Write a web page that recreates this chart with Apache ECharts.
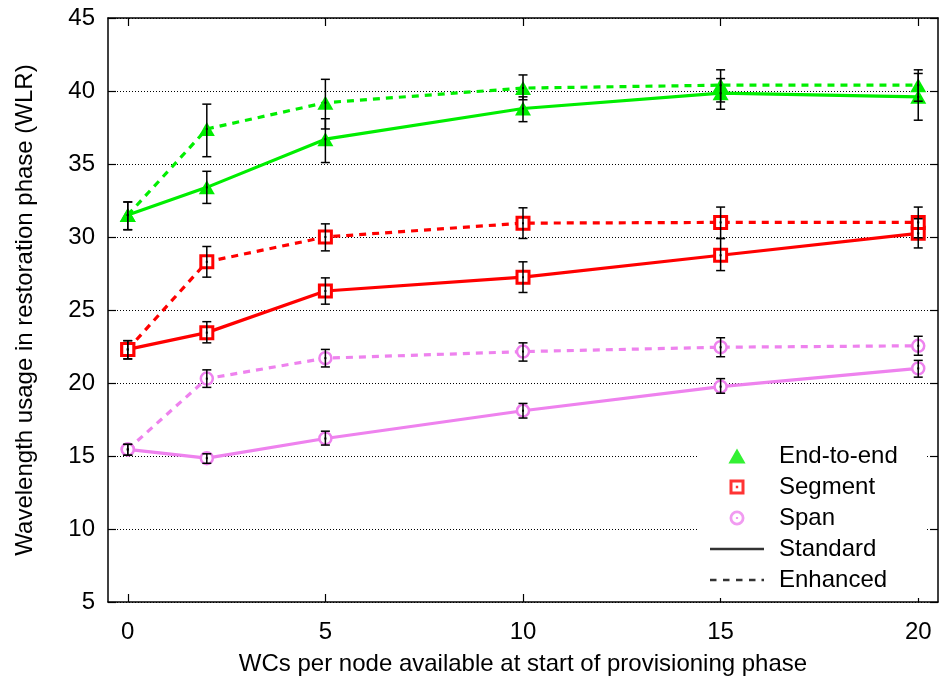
<!DOCTYPE html>
<html>
<head>
<meta charset="utf-8">
<script src="https://cdn.jsdelivr.net/npm/echarts@6/dist/echarts.min.js"></script>
<style>
html,body{margin:0;padding:0;background:#fff;}
#chart{width:940px;height:681px;}
</style>
</head>
<body>
<div id="chart"></div>
<script>
// ---- data ----
const xValues = [0, 2, 5, 10, 15, 20];
const xTicks = [0, 5, 10, 15, 20];

const e2eStandard     = [31.5, 33.4, 36.7, 38.8, 39.85, 39.6];
const e2eStandardLow  = [30.5, 32.3, 35.1, 37.9, 38.75, 38.0];
const e2eStandardHigh = [32.4, 34.5, 38.1, 39.6, 40.85, 41.2];

const e2eEnhanced     = [31.5, 37.4, 39.2, 40.2, 40.4, 40.4];
const e2eEnhancedLow  = [30.5, 35.5, 37.4, 39.4, 39.25, 39.3];
const e2eEnhancedHigh = [32.4, 39.1, 40.8, 41.1, 41.45, 41.45];

const segStandard     = [22.3, 23.45, 26.3, 27.25, 28.75, 30.25];
const segStandardLow  = [21.65, 22.75, 25.4, 26.2, 27.7, 29.25];
const segStandardHigh = [22.9, 24.2, 27.2, 28.3, 29.9, 31.25];

const segEnhanced     = [22.3, 28.3, 30.0, 30.95, 31.0, 31.0];
const segEnhancedLow  = [21.65, 27.25, 29.05, 29.9, 29.9, 29.95];
const segEnhancedHigh = [22.9, 29.35, 30.9, 32.0, 32.05, 32.05];

const spanStandard     = [15.45, 14.85, 16.2, 18.1, 19.75, 21.0];
const spanStandardLow  = [15.05, 14.5, 15.75, 17.6, 19.3, 20.4];
const spanStandardHigh = [15.8, 15.15, 16.7, 18.6, 20.3, 21.55];

const spanEnhanced     = [15.45, 20.3, 21.7, 22.15, 22.45, 22.55];
const spanEnhancedLow  = [15.05, 19.7, 21.1, 21.5, 21.8, 21.9];
const spanEnhancedHigh = [15.8, 20.9, 22.3, 22.75, 23.1, 23.2];

const legendNames = ['End-to-end', 'Segment', 'Span', 'Standard', 'Enhanced'];
const xTitle = 'WCs per node available at start of provisioning phase';
const yTitle = 'Wavelength usage in restoration phase (WLR)';

// ---- styles ----
const GREEN = '#00ee00', RED = '#ff0000', VIOLET = '#ee82ee';
const FONT = "'Liberation Sans', Arial, Helvetica, sans-serif";
const DASH = [7, 6];

function lineSeries(name, vals, color, dashed, kind) {
  let symbol, symbolSize, itemStyle;
  if (kind === 'tri') {
    symbol = 'triangle'; symbolSize = [16, 14];
    itemStyle = {color: color, borderWidth: 0};
  } else if (kind === 'sq') {
    symbol = 'rect'; symbolSize = 12;
    itemStyle = {color: '#fff', borderColor: color, borderWidth: 3};
  } else {
    symbol = 'circle'; symbolSize = 12;
    itemStyle = {color: '#fff', borderColor: color, borderWidth: 2.5};
  }
  return {
    type: 'line', name: name, z: 3,
    data: xValues.map((x, i) => [x, vals[i]]),
    symbol: symbol, symbolSize: symbolSize, showAllSymbol: true,
    itemStyle: itemStyle,
    lineStyle: {color: color, width: 3.2, type: dashed ? DASH : 'solid'},
    emphasis: {disabled: true},
    silent: true
  };
}

function errSeries(name, vals, lo, hi) {
  return {
    type: 'custom', name: name + ' error', z: 4, silent: true,
    data: xValues.map((x, i) => [x, lo[i], hi[i], vals[i]]),
    encode: {x: 0, y: [1, 2, 3]},
    renderItem: function (params, api) {
      const x = api.value(0);
      const pHi = api.coord([x, api.value(2)]);
      const pLo = api.coord([x, api.value(1)]);
      const pC = api.coord([x, api.value(3)]);
      const cw = 4.5;
      const st = {stroke: '#000', lineWidth: 1.5, fill: null};
      return {
        type: 'group',
        children: [
          {type: 'line', shape: {x1: pHi[0], y1: pHi[1], x2: pLo[0], y2: pLo[1]}, style: st},
          {type: 'line', shape: {x1: pHi[0] - cw, y1: pHi[1], x2: pHi[0] + cw, y2: pHi[1]}, style: st},
          {type: 'line', shape: {x1: pLo[0] - cw, y1: pLo[1], x2: pLo[0] + cw, y2: pLo[1]}, style: st},
          {type: 'rect', shape: {x: pC[0] - 1, y: pC[1] - 1, width: 2, height: 2}, style: {fill: '#000'}}
        ]
      };
    }
  };
}

const series = [
  lineSeries('End-to-end Standard', e2eStandard, GREEN, false, 'tri'),
  errSeries('End-to-end Standard', e2eStandard, e2eStandardLow, e2eStandardHigh),
  lineSeries('End-to-end Enhanced', e2eEnhanced, GREEN, true, 'tri'),
  errSeries('End-to-end Enhanced', e2eEnhanced, e2eEnhancedLow, e2eEnhancedHigh),
  lineSeries('Segment Standard', segStandard, RED, false, 'sq'),
  errSeries('Segment Standard', segStandard, segStandardLow, segStandardHigh),
  lineSeries('Segment Enhanced', segEnhanced, RED, true, 'sq'),
  errSeries('Segment Enhanced', segEnhanced, segEnhancedLow, segEnhancedHigh),
  lineSeries('Span Standard', spanStandard, VIOLET, false, 'ci'),
  errSeries('Span Standard', spanStandard, spanStandardLow, spanStandardHigh),
  lineSeries('Span Enhanced', spanEnhanced, VIOLET, true, 'ci'),
  errSeries('Span Enhanced', spanEnhanced, spanEnhancedLow, spanEnhancedHigh)
];

// legend icons (shapes only)
const iconTri = 'path://M8,0 L16,14 L0,14 Z M7.2,8.2 L8.8,8.2 L8.8,9.8 L7.2,9.8 Z M7.2,9.8 L8.8,9.8 L8.8,8.2 L7.2,8.2 Z';
const iconSq = 'path://M0,0 L15,0 L15,15 L0,15 Z M3,3 L3,12 L12,12 L12,3 Z M6.3,6.3 L8.7,6.3 L8.7,8.7 L6.3,8.7 Z';
const iconCi = 'path://M7,0 A7,7 0 1,1 7,14 A7,7 0 1,1 7,0 Z M7,2.6 A4.4,4.4 0 1,0 7,11.4 A4.4,4.4 0 1,0 7,2.6 Z M6,6 L8,6 L8,8 L6,8 Z';
const iconSolid = 'path://M0,0 L54,0 L54,2.6 L0,2.6 Z';
const iconDash = 'path://M0,0 L6.5,0 L6.5,2.6 L0,2.6 Z M13,0 L19.5,0 L19.5,2.6 L13,2.6 Z M26,0 L32.5,0 L32.5,2.6 L26,2.6 Z M39,0 L45.5,0 L45.5,2.6 L39,2.6 Z M51.5,0 L54,0 L54,2.6 L51.5,2.6 Z';
const legendIcons = [iconTri, iconSq, iconCi, iconSolid, iconDash];
const legendColors = [GREEN, RED, VIOLET, '#000', '#000'];

legendNames.forEach((n, i) => {
  series.push({type: 'scatter', name: n, data: [], itemStyle: {color: legendColors[i]}, silent: true});
});

const axisLineStyle = {color: '#000', width: 1.5};

const option = {
  animation: false,
  backgroundColor: '#fff',
  textStyle: {fontFamily: FONT},
  grid: {left: 108, right: 2, top: 18, bottom: 78, containLabel: false},
  legend: {
    orient: 'vertical',
    left: 697, top: 438,
    padding: [6, 28, 6, 13],
    backgroundColor: '#fff',
    itemWidth: 54, itemHeight: 15, itemGap: 7,
    symbolKeepAspect: true,
    selectedMode: false,
    textStyle: {fontFamily: FONT, fontSize: 24, color: '#000', lineHeight: 24, padding: [0, 0, 0, 10]},
    data: legendNames.map((n, i) => ({name: n, icon: legendIcons[i], itemStyle: {color: legendColors[i], borderWidth: 0}}))
  },
  xAxis: [
    {
      type: 'value', min: -0.5, max: 20.5, position: 'bottom',
      name: xTitle, nameLocation: 'middle', nameGap: 50,
      nameTextStyle: {fontFamily: FONT, fontSize: 24, color: '#000'},
      axisLine: {show: true, onZero: false, lineStyle: axisLineStyle},
      axisTick: {show: true, inside: true, length: 8, customValues: xTicks, lineStyle: {color: '#000', width: 1.2}},
      axisLabel: {customValues: xTicks, fontFamily: FONT, fontSize: 24, color: '#000', margin: 18},
      splitLine: {show: false}
    },
    {
      type: 'value', min: -0.5, max: 20.5, position: 'top',
      axisLine: {show: true, onZero: false, lineStyle: axisLineStyle},
      axisTick: {show: true, inside: true, length: 8, customValues: xTicks, lineStyle: {color: '#000', width: 1.2}},
      axisLabel: {show: false, customValues: xTicks},
      splitLine: {show: false}
    }
  ],
  yAxis: [
    {
      type: 'value', min: 5, max: 45, interval: 5, position: 'left',
      name: yTitle, nameLocation: 'middle', nameGap: 71,
      nameTextStyle: {fontFamily: FONT, fontSize: 24, color: '#000'},
      axisLine: {show: true, onZero: false, lineStyle: axisLineStyle},
      axisTick: {show: true, inside: true, length: 8, lineStyle: {color: '#000', width: 1.2}},
      axisLabel: {fontFamily: FONT, fontSize: 24, color: '#000', margin: 13},
      splitLine: {show: true, lineStyle: {color: '#000', width: 1, type: [1, 2]}}
    },
    {
      type: 'value', min: 5, max: 45, interval: 5, position: 'right',
      axisLine: {show: true, onZero: false, lineStyle: axisLineStyle},
      axisTick: {show: true, inside: true, length: 8, lineStyle: {color: '#000', width: 1.2}},
      axisLabel: {show: false},
      splitLine: {show: false}
    }
  ],
  series: series
};

const chart = echarts.init(document.getElementById('chart'), null, {renderer: 'canvas'});
chart.setOption(option);
</script>
</body>
</html>
